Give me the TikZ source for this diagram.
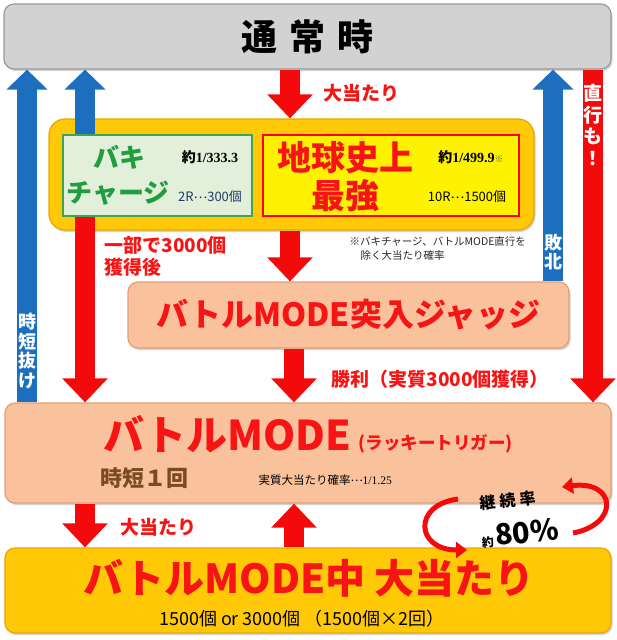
\documentclass[tikz,border=0pt]{standalone}
\usepackage{fontspec}
\setmainfont{Noto Sans CJK JP}
\newfontfamily\numserif{Liberation Serif}
\usetikzlibrary{arrows.meta,shadows}

\definecolor{grayfill}{HTML}{D2D2D2}
\definecolor{grayline}{HTML}{9A9A9A}
\definecolor{goldfill}{HTML}{FFC908}
\definecolor{goldline}{HTML}{E8A600}
\definecolor{greenfill}{HTML}{E2EFDA}
\definecolor{greenline}{HTML}{3DA650}
\definecolor{greentext}{HTML}{1E9E3E}
\definecolor{peach}{HTML}{F9C29C}
\definecolor{peachline}{HTML}{E49E72}
\definecolor{arrred}{HTML}{F40A0A}
\definecolor{arrblue}{HTML}{1C6EBE}
\definecolor{textred}{HTML}{F81414}
\definecolor{navy}{HTML}{24386A}
\definecolor{brownt}{HTML}{7A4A22}

\newcommand\middots{\raisebox{0.25em}{…}}

\tikzset{
  box/.style={draw, line width=1.2pt, rounded corners=10pt,
    drop shadow={opacity=0.35, shadow xshift=1.5pt, shadow yshift=-2pt}},
  redarr/.style={draw=arrred, line width=20pt, -{Triangle[width=44pt,length=24pt]}},
  bluearr/.style={draw=arrblue, line width=20pt, -{Triangle[width=40pt,length=20pt]}},
  looparr/.style={draw=arrred, line width=5pt, -{Triangle[width=16pt,length=11pt]}},
  lbl/.style={anchor=west, text=textred, font=\bfseries\fontsize{19}{19}\selectfont},
  onarr/.style={text=white, align=center, font=\bfseries\fontsize{18}{19.5}\selectfont},
  small/.style={anchor=west, text=black!85, font=\fontsize{10.5}{13}\selectfont},
}

\begin{document}
\begin{tikzpicture}[x=1pt,y=-1pt]
  \useasboundingbox (0,0) rectangle (616,640);

  % boxes
  \node[box, fill=grayfill, draw=grayline, minimum width=607pt, minimum height=65pt]
    (top) at (307.5,36.5) {\bfseries\fontsize{36}{36}\selectfont 通\hspace{12pt}常\hspace{12pt}時};
  \node[box, fill=goldfill, draw=goldline, rounded corners=16pt, minimum width=485pt, minimum height=111pt]
    (outer) at (291.5,174.5) {};
  \node[draw=greenline, fill=greenfill, line width=1.5pt, minimum width=189pt, minimum height=81pt]
    (baki) at (157.5,175.5) {};
  \node[draw=red, fill=yellow, line width=1.5pt, minimum width=256pt, minimum height=81pt]
    (chikyu) at (391,175.5) {};
  \node[box, fill=peach, draw=peachline, minimum width=441pt, minimum height=66pt]
    (judge) at (348.5,315) {\bfseries\fontsize{32}{32}\selectfont\color{textred}バトルMODE突入ジャッジ};
  \node[box, fill=peach, draw=peachline, minimum width=606pt, minimum height=100pt]
    (battle) at (308,453) {};
  \node[box, fill=goldfill, draw=goldline, minimum width=606pt, minimum height=85pt]
    (final) at (308,590.5) {};

  % arrow columns
  \coordinate (xA) at (27,0);
  \coordinate (xB) at (85,0);
  \coordinate (xC) at (290,0);
  \coordinate (xD) at (294,0);
  \coordinate (xE) at (553,0);
  \coordinate (xF) at (593,0);

  \draw[bluearr] (xA |- battle.north) -- (xA |- top.south);
  \draw[bluearr] (xB |- baki.north) -- (xB |- top.south);
  \draw[redarr] (xB |- baki.south) -- (xB |- battle.north);
  \draw[redarr] (xC |- top.south) -- (xC |- outer.north);
  \draw[redarr] (xC |- outer.south) -- (xC |- judge.north);
  \draw[redarr] (xD |- judge.south) -- (xD |- battle.north);
  \draw[bluearr] (xE |- judge.north) -- (xE |- top.south);
  \draw[redarr] (xF |- top.south) -- (xF |- battle.north);
  \draw[redarr] (xB |- battle.south) -- (xB |- final.north);
  \draw[redarr] (xD |- final.north) -- (xD |- battle.south);

  % texts on arrows
  \node[onarr] (jitan) at (27,351) {時\\短\\抜\\け};
  \node[onarr] (haiboku) at (553,252) {敗\\北};
  \node[onarr, font=\bfseries\fontsize{19}{21.5}\selectfont] (chokko) at (593,125) {直\\行\\も\\！};

  % arrow labels
  \node[lbl] (atari1) at (320,93) {大当たり};
  \node[lbl] (ichibu) at (101,245) {一部で3000個};
  \node[lbl] (kakutoku) at (101,267) {獲得後};
  \node[lbl] (shori) at (328,379) {勝利（実質3000個獲得）};
  \node[lbl] (atari2) at (117,527) {大当たり};

  % inside the yellow box
  \node[text=greentext, font=\bfseries\fontsize{26}{26}\selectfont] (bakit) at (119,157) {バキ};
  \node[text=greentext, font=\bfseries\fontsize{26}{26}\selectfont] (charge) at (118,193) {チャージ};
  \node[font=\bfseries\fontsize{14}{14}\selectfont] (p1) at (210,157) {約{\numserif 1/333.3}};
  \node[text=navy, font=\fontsize{13}{13}\selectfont] (r1) at (210,197) {2R\middots 300個};
  \node[text=textred, font=\bfseries\fontsize{34}{34}\selectfont] (chikyut) at (345,158) {地球史上};
  \node[text=textred, font=\bfseries\fontsize{34}{34}\selectfont] (saikyo) at (345,196) {最強};
  \node[font=\bfseries\fontsize{14}{14}\selectfont] (p2) at (471,157) {約{\numserif 1/499.9}{\color{black!60}\fontsize{9}{9}\selectfont ※}};
  \node[font=\fontsize{13}{13}\selectfont] (r2) at (467,197) {10R\middots 1500個};
  \node[small] (note1) at (346,242) {※バキチャージ、バトルMODE直行を};
  \node[small] (note2) at (357,256) {除く大当たり確率};

  % battle mode
  \node[anchor=west, text=textred, font=\bfseries\fontsize{41}{41}\selectfont] (bmt) at (100,434) {バトルMODE};
  \node[anchor=west, text=textred, font=\bfseries\fontsize{17.5}{17.5}\selectfont] (lucky) at (355,444) {(ラッキートリガー)};
  \node[anchor=west, text=brownt, font=\bfseries\fontsize{22}{22}\selectfont] (jitan1) at (97,478) {時短１回};
  \node[anchor=west, font=\fontsize{11.5}{11.5}\selectfont] (jisshitsu) at (255,480) {実質大当たり確率\middots{\numserif 1/1.25}};

  % final
  \node[inner sep=0pt, text height=30pt, text depth=4pt, text=textred, font=\bfseries\fontsize{40}{40}\selectfont]
    (fint) at (309,580) {バトルMODE中 大当たり};
  \node[font=\fontsize{18}{18}\selectfont] (fins) at (302,619) {1500個 or 3000個 （1500個×2回）};

  % loop
  \node[rotate=6, inner sep=0pt, font=\bfseries\fontsize{16}{16}\selectfont] (keizoku) at (508,501) {継\hspace{4pt}続\hspace{4pt}率};
  \node[rotate=6, inner sep=0pt, font=\bfseries\fontsize{12}{12}\selectfont] (ritsu) at (520,533) {約\hspace{2pt}{\fontsize{29}{29}\selectfont 80\%}};
  \coordinate (la) at (458,499);
  \coordinate (lb) at (467,550);
  \coordinate (ra) at (573,533);
  \coordinate (rb) at (562,487);
  \draw[looparr] (la) .. controls (412,505) and (416,550) .. (lb);
  \draw[looparr] (ra) .. controls (620,524) and (616,480) .. (rb);
\end{tikzpicture}
\end{document}
